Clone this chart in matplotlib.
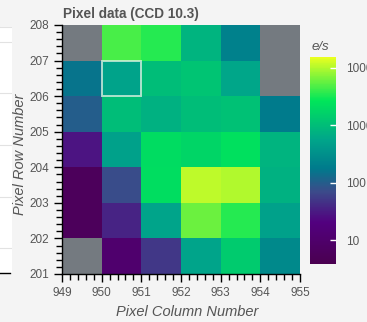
import numpy as np
import matplotlib
matplotlib.use('Agg')
import matplotlib.pyplot as plt
from matplotlib.colors import LinearSegmentedColormap, LogNorm
from matplotlib.ticker import MultipleLocator, FixedLocator

# pixel grid: columns 949..954, rows 201..207 (values in e/s, nan = outside aperture)
col_edges = [949, 950, 951, 952, 953, 954, 955]
row_edges = [201, 202, 203, 204, 205, 206, 207, 208]

# listed top row (207) first
flux_rows = [
    [np.nan, 4600, 3500, 790, 210, np.nan],
    [160, 520, 1000, 1200, 580, np.nan],
    [100, 1000, 740, 1000, 1100, 180],
    [29, 510, 2100, 1800, 2300, 790],
    [5.9, 72, 2200, 11000, 10000, 740],
    [5.9, 37, 540, 6000, 3500, 510],
    [np.nan, 11, 51, 540, 1400, 270],
]
selected_pixel = (950, 206)
cbar_ticks = [10, 100, 1000, 10000]
cbar_labels = ['10', '100', '1000', '10000']

flux = np.array(flux_rows, dtype=float)[::-1]

cmap = LinearSegmentedColormap.from_list('pix', [
    (0.0, '#4a0050'),
    (0.2, '#52007f'),
    (0.35, '#3b4b8a'),
    (0.46, '#007a8c'),
    (0.6, '#00a58a'),
    (0.79, '#00e65a'),
    (1.0, '#eaff1f'),
])
cmap.set_bad('#747a80')
norm = LogNorm(vmin=3.9, vmax=15500)

bg = '#f4f4f4'
txt = '#555555'
plt.rcParams['font.family'] = ['Liberation Sans', 'DejaVu Sans']

fig = plt.figure(figsize=(3.67, 3.22), dpi=100, facecolor=bg)

# remnant of the neighbouring panel on the left edge
side = fig.add_axes([0, 0, 12 / 367, 1])
side.set_xlim(0, 1)
side.set_ylim(322, 0)
side.axis('off')
side.axvspan(0, 1, ymin=1 - 273 / 322, ymax=1 - 27 / 322, color='white')
for yy in [27, 42, 93, 145, 197, 248]:
    side.plot([0, 1], [yy, yy], color='#e2e2e2', lw=0.8)
side.plot([0, 0.85], [273, 273], color='black', lw=1)

ax = fig.add_axes([62 / 367, 1 - 274 / 322, 238 / 367, 249 / 322])
ax.set_facecolor(bg)
mesh = ax.pcolormesh(col_edges, row_edges, np.ma.masked_invalid(flux),
                     cmap=cmap, norm=norm)

sx, sy = selected_pixel
ax.add_patch(plt.Rectangle((sx, sy), 1, 1, fill=False, ec='#d8f0e0',
                           lw=1.4, alpha=0.8))

ax.set_xlim(949, 955)
ax.set_ylim(201, 208)
ax.xaxis.set_major_locator(MultipleLocator(1))
ax.yaxis.set_major_locator(MultipleLocator(1))
ax.xaxis.set_minor_locator(MultipleLocator(0.2))
ax.yaxis.set_minor_locator(MultipleLocator(0.2))
ax.tick_params(which='major', direction='out', length=6, width=1,
               color='black', labelcolor=txt, labelsize=8.5)
ax.tick_params(which='minor', direction='out', length=4, width=1,
               color='black')
for s in ['top', 'right']:
    ax.spines[s].set_visible(False)
for s in ['left', 'bottom']:
    ax.spines[s].set_color('black')
    ax.spines[s].set_linewidth(1)

ax.set_xlabel('Pixel Column Number', style='italic', color=txt, fontsize=10.5)
ax.set_ylabel('Pixel Row Number', style='italic', color=txt, fontsize=10.5)
ax.xaxis.label.set_va('center')
ax.yaxis.label.set_va('center')
ax.xaxis.set_label_coords(0.527, -0.151)
ax.yaxis.set_label_coords(-0.176, 0.48)

fig.text(63 / 367, 1 - 14 / 322, 'Pixel data (CCD 10.3)', weight='bold',
         color=txt, fontsize=9.8, va='center', ha='left')

cax = fig.add_axes([310 / 367, 1 - 264 / 322, 26 / 367, 207 / 322])
cb = fig.colorbar(mesh, cax=cax)
cb.outline.set_visible(False)
cax.yaxis.set_major_locator(FixedLocator(cbar_ticks))
cax.yaxis.set_minor_locator(FixedLocator([]))
cax.set_yticklabels(cbar_labels)
cax.tick_params(which='major', direction='in', length=4, width=1,
                color='white', labelcolor=txt, labelsize=8.5, pad=7)
fig.text(312 / 367, 1 - 47 / 322, 'e/s', style='italic', color=txt,
         fontsize=9.5, va='center', ha='left')

fig.savefig('out.png', dpi=100, facecolor=bg)
